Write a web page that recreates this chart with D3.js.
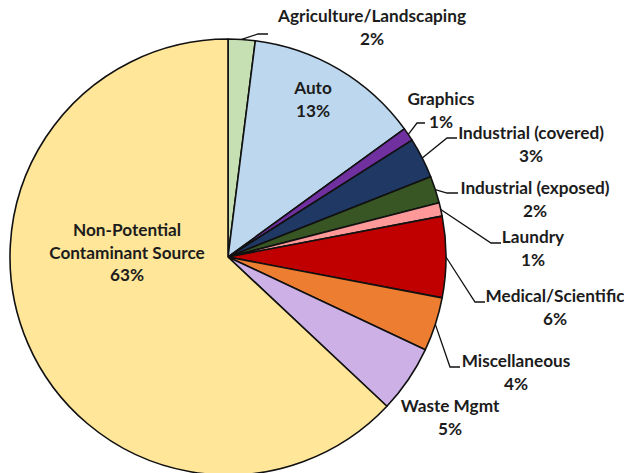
<!DOCTYPE html>
<html>
<head>
<meta charset="utf-8">
<script src="https://cdn.jsdelivr.net/npm/d3@7"></script>
<style>
  html, body { margin: 0; padding: 0; background: #ffffff; }
  svg { display: block; }
  text { font-family: Lato, "Open Sans", sans-serif; font-weight: 700; fill: #1c1c1c; }
</style>
</head>
<body>
<svg id="chart" width="624" height="473"></svg>
<script>
// Contaminant source categories and their share of the total (percent)
const categories = [
  "Agriculture/Landscaping",
  "Auto",
  "Graphics",
  "Industrial (covered)",
  "Industrial (exposed)",
  "Laundry",
  "Medical/Scientific",
  "Miscellaneous",
  "Waste Mgmt",
  "Non-Potential Contaminant Source"
];
const shares = [2, 13, 1, 3, 2, 1, 6, 4, 5, 63];
const sliceColors = [
  "#c6e0b4", "#bdd7ee", "#7030a0", "#1f3864", "#375623",
  "#ff9999", "#c00000", "#ed7d31", "#cdb1e6", "#ffe699"
];

// Label placement: text lines are centred on x; first line's middle sits at y.
// Leader lines run from the slice's mid-angle on the rim to an elbow, then to an end point.
const labelLayout = [
  { x: 372, y: 16, lines: ["Agriculture/Landscaping"], leader: [[258, 34], [268, 34]] },
  { x: 313, y: 88, lines: ["Auto"] },
  { x: 441, y: 99, lines: ["Graphics"], leader: [[417, 123], [425, 123]] },
  { x: 531, y: 133, lines: ["Industrial (covered)"], leader: [[447, 138], [457, 138]] },
  { x: 535, y: 188, lines: ["Industrial (exposed)"], leader: [[447, 193], [458, 193]] },
  { x: 533, y: 237, lines: ["Laundry"], leader: [[491, 243], [501, 243]] },
  { x: 555, y: 296, lines: ["Medical/Scientific"], leader: [[475, 302], [485, 302]] },
  { x: 516, y: 361, lines: ["Miscellaneous"], leader: [[450, 367], [460, 367]] },
  { x: 450, y: 406, lines: ["Waste Mgmt"] },
  { x: 127, y: 230, lines: ["Non-Potential", "Contaminant Source"] }
];

const cx = 228, cy = 257, radius = 218;
const lineGap = 22.5;

const svg = d3.select("#chart");
const g = svg.append("g").attr("transform", `translate(${cx},${cy})`);

const pie = d3.pie().sort(null).value(d => d.value).startAngle(0).endAngle(2 * Math.PI);
const arc = d3.arc().innerRadius(0).outerRadius(radius);

const data = categories.map((c, i) => ({ name: c, value: shares[i], color: sliceColors[i] }));
const arcs = pie(data);

g.selectAll("path.slice")
  .data(arcs)
  .join("path")
  .attr("class", "slice")
  .attr("d", arc)
  .attr("fill", d => d.data.color)
  .attr("stroke", "#111")
  .attr("stroke-width", 1.6)
  .attr("stroke-linejoin", "round");

// Leader lines
arcs.forEach((a, i) => {
  const lay = labelLayout[i];
  if (!lay.leader) return;
  const mid = (a.startAngle + a.endAngle) / 2;
  const start = [cx + radius * Math.sin(mid), cy - radius * Math.cos(mid)];
  svg.append("path")
    .attr("d", d3.line()([start, ...lay.leader]))
    .attr("fill", "none")
    .attr("stroke", "#111")
    .attr("stroke-width", 1.3);
});

// Labels: category name lines followed by the percentage
arcs.forEach((a, i) => {
  const lay = labelLayout[i];
  const lines = [...lay.lines, d3.format(".0f")(a.data.value) + "%"];
  const t = svg.append("text")
    .attr("text-anchor", "middle")
    .attr("font-size", 17.2);
  lines.forEach((ln, k) => {
    t.append("tspan")
      .attr("x", lay.x)
      .attr("y", lay.y + k * lineGap)
      .attr("dy", "0.35em")
      .text(ln);
  });
});
</script>
</body>
</html>
